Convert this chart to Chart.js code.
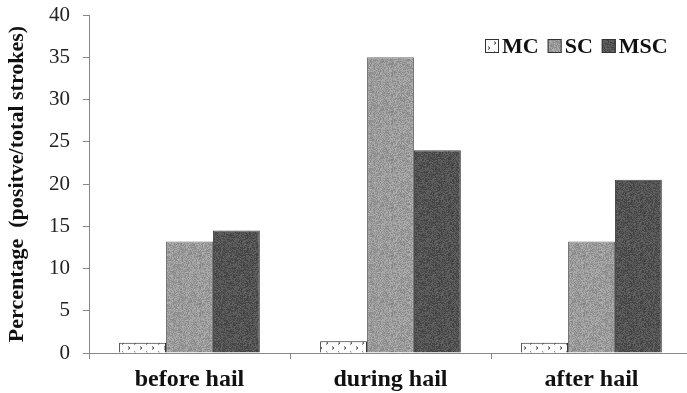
<!DOCTYPE html>
<html>
<head>
<meta charset="utf-8">
<script src="https://cdn.jsdelivr.net/npm/chart.js@4/dist/chart.umd.min.js"></script>
<style>
  html, body { margin: 0; padding: 0; background: #fff; overflow: hidden; }
  #wrap { width: 687px; height: 393px; overflow: hidden; }
</style>
</head>
<body>
<div id="wrap"><canvas id="c" width="692" height="393"></canvas></div>
<script>
// Hail periods and share of positive strokes for each storm class
const categories = ['before hail', 'during hail', 'after hail'];
const mcValues  = [1.2, 1.4, 1.2];
const scValues  = [13.2, 35.0, 13.2];
const mscValues = [14.5, 24.0, 20.5];
const yTicks = [0, 5, 10, 15, 20, 25, 30, 35, 40];
const seriesNames = ['MC', 'SC', 'MSC'];

const SERIF = '"Liberation Serif", "Times New Roman", serif';

// deterministic grain for the textured fills
function hash(x, y, s) {
  let h = (x * 374761393 + y * 668265263 + s * 1442695041) | 0;
  h = (h ^ (h >>> 13)) * 1274126177 | 0;
  h = h ^ (h >>> 16);
  return ((h >>> 0) % 1000) / 1000;
}
function grainPattern(base, spread, seed) {
  const n = 48;
  const cv = document.createElement('canvas');
  cv.width = n; cv.height = n;
  const g = cv.getContext('2d');
  const img = g.createImageData(n, n);
  for (let y = 0; y < n; y++) {
    for (let x = 0; x < n; x++) {
      const v = Math.max(0, Math.min(255, Math.round(base + (hash(x, y, seed) - 0.5) * spread)));
      const i = (y * n + x) * 4;
      img.data[i] = v; img.data[i + 1] = v; img.data[i + 2] = v; img.data[i + 3] = 255;
    }
  }
  g.putImageData(img, 0, 0);
  return g.createPattern(cv, 'repeat');
}
function dotPattern() {
  const cv = document.createElement('canvas');
  cv.width = 12; cv.height = 10;
  const g = cv.getContext('2d');
  g.fillStyle = '#fbfbfb';
  g.fillRect(0, 0, 12, 10);
  g.strokeStyle = '#444';
  g.lineWidth = 1;
  g.beginPath();
  g.moveTo(2, 1.5); g.lineTo(4, 3); g.lineTo(2, 4.5);
  g.moveTo(8, 6.5); g.lineTo(10, 8); g.lineTo(8, 9.5);
  g.stroke();
  return g.createPattern(cv, 'repeat');
}

const ctxMain = document.getElementById('c').getContext('2d');
const fills = [dotPattern(), grainPattern(155, 45, 3), grainPattern(82, 40, 7)];

// legend drawn inside the plot area, top right
const insideLegend = {
  id: 'insideLegend',
  afterDraw(chart) {
    const ctx = chart.ctx;
    ctx.save();
    ctx.font = 'bold 22px ' + SERIF;
    ctx.textBaseline = 'middle';
    let x = 485;
    const yMid = 46;
    seriesNames.forEach((name, i) => {
      ctx.fillStyle = fills[i];
      ctx.fillRect(x, yMid - 7, 14, 14);
      ctx.strokeStyle = '#333';
      ctx.lineWidth = 1;
      ctx.strokeRect(x + 0.5, yMid - 6.5, 13, 13);
      ctx.fillStyle = '#111';
      ctx.fillText(name, x + 17, yMid + 1);
      x += 17 + ctx.measureText(name).width + 9;
    });
    ctx.restore();
  }
};

new Chart(ctxMain, {
  type: 'bar',
  data: {
    labels: categories,
    datasets: [
      { label: seriesNames[0], data: mcValues,  backgroundColor: fills[0], borderColor: '#222', borderWidth: 1 },
      { label: seriesNames[1], data: scValues,  backgroundColor: fills[1], borderColor: '#6a6a6a', borderWidth: 1 },
      { label: seriesNames[2], data: mscValues, backgroundColor: fills[2], borderColor: '#444', borderWidth: 1 }
    ]
  },
  options: {
    responsive: false,
    animation: false,
    devicePixelRatio: 1,
    layout: { padding: { top: 15, right: 0, left: 4, bottom: 0 } },
    categoryPercentage: 0.7,
    barPercentage: 1.0,
    plugins: { legend: { display: false }, tooltip: { enabled: false } },
    scales: {
      x: {
        grid: { display: true, drawOnChartArea: false, offset: true, color: '#888', tickLength: 6 },
        border: { display: true, color: '#888', width: 1 },
        ticks: { color: '#111', font: { family: SERIF, size: 24, weight: 'bold' }, padding: 6 },
        afterFit(s) { s.height = 40; s.paddingLeft = 0; s.paddingRight = 0; }
      },
      y: {
        min: 0, max: 40,
        afterBuildTicks(s) { s.ticks = yTicks.map(v => ({ value: v })); },
        grid: { display: true, drawOnChartArea: false, color: '#888', tickLength: 6 },
        border: { display: true, color: '#888', width: 1 },
        ticks: { color: '#222', font: { family: SERIF, size: 21 }, padding: 13 },
        title: {
          display: true,
          text: 'Percentage  (positve/total strokes)',
          color: '#111',
          font: { family: SERIF, size: 22, weight: 'bold' },
          padding: { top: 0, bottom: 2 }
        },
        afterFit(s) { s.width = 85; s.paddingTop = 0; s.paddingBottom = 0; }
      }
    }
  },
  plugins: [insideLegend]
});
</script>
</body>
</html>
